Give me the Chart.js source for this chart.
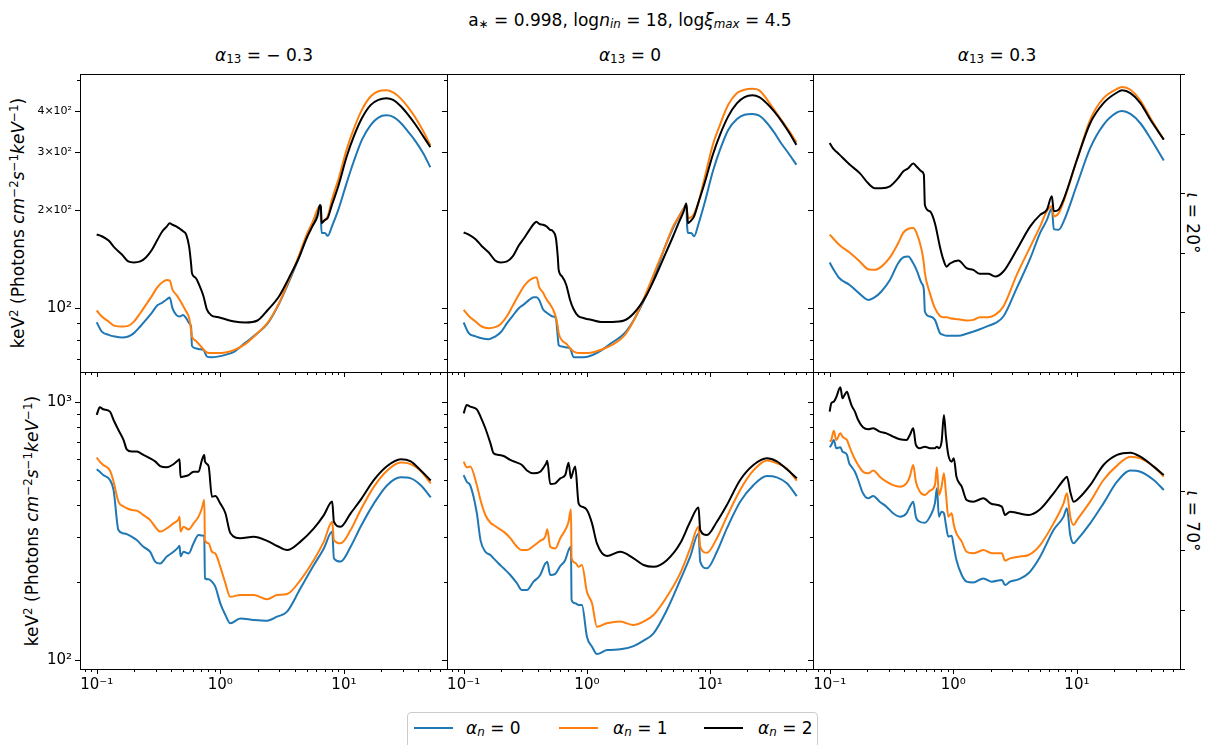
<!DOCTYPE html>
<html>
<head>
<meta charset="utf-8">
<script src="https://cdn.jsdelivr.net/npm/chart.js@4.4.0/dist/chart.umd.min.js"></script>
<style>
body { margin: 0; background: #fff; font-family: "DejaVu Sans", sans-serif; }
#fig { position: relative; width: 1211px; height: 745px; overflow: hidden; background: #fff; }
#fig canvas { position: absolute; }
.txt { position: absolute; white-space: nowrap; color: #000; font-size: 17px; line-height: 1; }
.txt sub { font-size: 0.7em; vertical-align: -0.25em; line-height: 0; }
.txt sup { font-size: 0.7em; vertical-align: 0.45em; line-height: 0; }
.c { transform: translate(-50%, -50%); }
.rl { transform: translate(-50%, -50%) rotate(-90deg); }
.rr { transform: translate(-50%, -50%) rotate(90deg); }
#legend { position: absolute; left: 407px; top: 712px; width: 411px; height: 44px; border: 1px solid #ccc; border-radius: 4px; box-sizing: border-box; background: #fff; }
#legend .ln { position: absolute; top: 14px; width: 39px; height: 0; border-top: 2px solid; }
#legend .txt { top: 15px; transform: translateY(-50%); }
</style>
</head>
<body>
<div id="fig">
  <div class="txt c" style="left:630px; top:20px">a<sub>∗</sub> = 0.998, log<i>n</i><sub><i>in</i></sub> = 18, log<i>ξ</i><sub><i>max</i></sub> = 4.5</div>
  <div class="txt c" style="left:264px; top:55px"><i>α</i><sub>13</sub> = − 0.3</div>
  <div class="txt c" style="left:630px; top:55px"><i>α</i><sub>13</sub> = 0</div>
  <div class="txt c" style="left:997px; top:55px"><i>α</i><sub>13</sub> = 0.3</div>
  <div class="txt rl" style="left:18px; top:223px">keV<sup>2</sup> (Photons <i>cm</i><sup>−2</sup><i>s</i><sup>−1</sup><i>keV</i><sup>−1</sup>)</div>
  <div class="txt rl" style="left:32px; top:521px">keV<sup>2</sup> (Photons <i>cm</i><sup>−2</sup><i>s</i><sup>−1</sup><i>keV</i><sup>−1</sup>)</div>
  <div class="txt rr" style="left:1192px; top:223px"><i>ι</i> = 20°</div>
  <div class="txt rr" style="left:1192px; top:521px"><i>ι</i> = 70°</div>
  <div id="legend">
    <span class="ln" style="left:6px; border-color:#1f77b4"></span><span class="txt" style="left:58px"><i>α</i><sub><i>n</i></sub> = 0</span>
    <span class="ln" style="left:151px; border-color:#ff7f0e"></span><span class="txt" style="left:205px"><i>α</i><sub><i>n</i></sub> = 1</span>
    <span class="ln" style="left:296px; border-color:#000000"></span><span class="txt" style="left:350px"><i>α</i><sub><i>n</i></sub> = 2</span>
  </div>
</div>
<script>
// energies (keV) and keV^2 flux values

// top row, alpha13 = -0.3 and 0 share the energy grid
const energyTop = [0.1, 0.11, 0.125, 0.14, 0.16, 0.18, 0.2, 0.225, 0.25, 0.28,
  0.31, 0.34, 0.37, 0.39, 0.41, 0.44, 0.47, 0.5, 0.53, 0.56,
  0.58, 0.59, 0.63, 0.68, 0.73, 0.78, 0.85, 0.95, 1.1, 1.3,
  1.6, 2.0, 2.4, 3.0, 3.6, 4.3, 5.0, 5.6, 6.1, 6.4,
  6.5, 6.6, 7.0, 7.4, 8.0, 9.0, 10.5, 12, 14, 16.5,
  19, 22, 25, 29, 33, 38, 44, 50];

const blueTL = [90.6, 84.8, 82.9, 81.9, 81.3, 81.9, 83.9, 87.9, 92.1, 97,
  102.1, 104, 106.5, 107.8, 100, 95.4, 94.3, 95.4, 93.2, 90,
  87.9, 76.7, 75.4, 74.9, 74.6, 71.1, 70.8, 71.1, 72, 73.7,
  78.5, 83.9, 89.5, 103.6, 120.7, 142, 166, 182, 198, 206,
  191, 170, 170, 166.5, 178, 200, 241, 281, 328, 364,
  383, 389, 385, 368, 347, 324, 297, 270];
const orangeTL = [98.4, 94.3, 91.0, 88.3, 87.9, 88.3, 91.0, 96.5, 102.4, 109.1,
  116, 120, 122, 121.5, 114, 110, 106, 101.7, 97.7, 93.2,
  85.8, 81.9, 79.6, 77.2, 74.9, 73.2, 72.9, 72.9, 73.2, 74.6,
  77.8, 83.9, 90, 104, 122, 144, 168, 184, 200, 205,
  203, 184, 186, 191, 215, 247, 305, 353, 405, 445,
  461, 464, 457, 437, 412, 382, 347, 315];
const blackTL = [168, 166, 161, 153, 146, 139, 138, 139, 143, 151,
  162, 172, 178, 182, 180, 178, 175, 172, 168, 154,
  137, 128, 124, 117, 109, 99, 95, 94, 92.5, 91,
  90.4, 91.7, 98.4, 109, 124, 142, 164, 179, 191, 207,
  205, 182, 186, 189, 207, 236, 290, 335, 382, 419,
  434, 439, 434, 414, 391, 364, 335, 311];

const blueTM = [90.4, 83.9, 82, 80.9, 80.4, 81.9, 84.4, 90, 94.7, 100,
  102.9, 106, 108.1, 108.1, 106, 99.3, 97, 95.4, 94.3, 93.2,
  81.9, 77.1, 76.3, 75.8, 75.3, 70.8, 70.8, 70.8, 71.8, 74.2,
  78.5, 83.5, 92.1, 108.6, 128, 154, 175.8, 191, 202, 207,
  178, 170, 170, 166, 180, 209.7, 262, 305, 351, 379,
  390.6, 392.6, 388, 368, 345, 318, 294.8, 274.6];
const orangeTM = [98.8, 94.7, 91, 87.9, 86.9, 87.5, 89.5, 94.7, 101.7, 109.9,
  117, 121.5, 123.8, 124.4, 116, 111.7, 106.5, 103.1, 99.3, 93.9,
  87.9, 83.9, 79.6, 77.8, 75.4, 73.7, 72.9, 72.9, 73.2, 74.6,
  77.2, 82.3, 91.7, 110.6, 131, 154, 178, 191, 201.5, 207,
  196, 188.6, 189.5, 194.5, 209.7, 250, 316, 364, 419, 455,
  466, 469, 464, 434, 405, 375.6, 347, 321.6];
const blackTM = [170.5, 168, 162.6, 155, 148, 140, 138, 139, 144, 155.5,
  164, 173, 181, 184, 181, 180, 178, 174, 172, 164,
  144, 131, 125, 117.8, 106, 99.3, 94.7, 93.2, 92, 90.8,
  90.8, 91.7, 96.5, 108.6, 125, 145.7, 166, 184, 198, 209,
  196, 182, 185.5, 191, 209.7, 241, 294.8, 339, 386.3, 424,
  442.5, 448, 442.5, 422, 400, 373, 343, 316];

// top row, alpha13 = 0.3
const energyTR = [0.1, 0.106, 0.12, 0.145, 0.175, 0.205, 0.232, 0.262, 0.307, 0.358,
  0.393, 0.432, 0.474, 0.504, 0.554, 0.578, 0.589, 0.647, 0.71, 0.78,
  0.83, 0.883, 0.94, 1.1, 1.28, 1.45, 1.64, 1.92, 2.18, 2.54,
  3.26, 4.19, 5.04, 5.71, 6.27, 6.5, 7.1, 7.8, 10, 12.8,
  16.4, 21.1, 23.2, 27.1, 32.6, 39.3, 50.4];
const blueTR = [138, 132.6, 123.5, 117.8, 110.6, 106, 108.1, 112.5, 122, 137.3,
  143, 144, 137.3, 131, 119.3, 113.8, 97.7, 94.3, 92.1, 83.9,
  82.9, 82.3, 82.3, 82.3, 83.5, 84.8, 86.2, 88.3, 90, 94.3,
  115.2, 142, 170, 186, 202, 174.5, 173.7, 184, 238.6, 309,
  364, 397, 401, 393, 368, 331, 283];
const orangeTR = [168, 164, 156, 148, 139, 131.6, 131, 134, 143, 158,
  170, 175, 176, 170, 151, 137, 128, 111, 100, 94.7,
  93.9, 93.9, 93.2, 92.5, 91.7, 92.1, 93.9, 93.9, 95.4, 101.2,
  126.5, 154, 178, 198, 205, 191, 195, 212, 284.5, 377,
  439, 469, 475, 466, 432, 382, 328];
const blackTR = [320, 309, 295, 275, 259, 241, 233, 233, 236, 250,
  262, 268, 277, 271.5, 262, 256, 207, 198, 182, 154,
  141, 134, 137, 140, 132.6, 131, 127.4, 127.4, 125, 129.5,
  151, 178, 193, 200, 220, 198, 200, 215, 284.5, 368,
  424, 457, 464, 455, 424, 377, 328];

// bottom row, alpha13 = -0.3 and 0 share the energy grid
const energyBot = [0.1, 0.106, 0.113, 0.128, 0.137, 0.15, 0.165, 0.175, 0.192, 0.211,
  0.239, 0.271, 0.297, 0.326, 0.369, 0.418, 0.459, 0.468, 0.477, 0.504,
  0.554, 0.608, 0.667, 0.71, 0.742, 0.751, 0.804, 0.856, 0.911, 1.0,
  1.1, 1.205, 1.452, 1.864, 2.39, 2.88, 3.47, 4.45, 5.71, 6.88,
  8.04, 8.3, 9.4, 11.33, 13.65, 17.5, 22.4, 28.8, 34.7, 41.85,
  50.4];
const blueBL = [549.5, 538, 522, 499.5, 457, 319.5, 310, 308, 301, 292,
  275, 263, 241, 237, 252, 263, 274, 277.5, 253, 263,
  259, 284, 305.5, 304, 303.7, 207.4, 205.6, 201.4, 192.5, 166,
  149.5, 138.8, 145, 143, 142, 147.3, 154, 189.7, 233.6, 271,
  315, 248, 241, 275, 329, 405.5, 477, 511.6, 507, 477,
  428];
const orangeBL = [610, 588.6, 571, 544, 492, 412, 394, 388, 382, 380,
  365, 349, 329, 315, 324, 339, 351.5, 360, 315, 329,
  321, 339, 360, 388, 418, 292, 283.6, 263, 259, 230,
  198.4, 176, 178.8, 178.8, 172, 178.8, 180.4, 204.4, 244.4, 288,
  344, 292, 283.6, 319.5, 382, 470.8, 544, 584, 576, 541,
  485];
const blackBL = [893, 956, 940, 920, 854, 781, 714, 657, 644, 644,
  625, 606, 590, 566, 560, 575, 597, 601, 512, 515,
  522, 538, 538, 597, 625, 590, 566, 430, 433, 405,
  371, 311, 297, 301, 290, 277, 267, 288, 324, 365,
  412, 344, 329, 371, 418, 500, 566, 601, 590, 544,
  497];

const blueBM = [522, 492, 477, 371, 292, 263, 255.6, 248, 237, 226.9,
  213.8, 198.4, 186.9, 186.9, 201.4, 213.8, 237, 238.6, 240.8, 213.8,
  216, 231.6, 244.4, 267, 275, 171, 166, 163.5, 163.5, 123.2,
  112.7, 105.5, 109.3, 110, 113.3, 118.9, 126.9, 156.3, 204.4, 251.8,
  310, 240.8, 226.9, 263, 324.3, 411.6, 477, 517.8, 511.6, 485,
  432.5];
const orangeBM = [588.6, 559.5, 563, 477, 417.8, 365.4, 341, 334, 324, 315,
  297, 275, 267, 267, 277, 290, 301, 312, 321.6, 275,
  271, 297, 319.5, 344, 384.5, 248, 238.6, 230, 233.6, 184,
  166, 134.7, 138.8, 141, 136.7, 141, 149.5, 176, 217, 271,
  329, 275, 260.7, 297, 360, 457, 544, 595, 580, 553.5,
  496.5];
const blackBM = [906, 976, 962, 939, 880, 793, 693, 634, 625, 619,
  597.4, 583.3, 571, 544, 530, 538, 571, 580, 593.8, 482,
  485, 507, 522, 583, 507, 515, 563, 405.5, 393.6, 382,
  339, 283.6, 253.3, 263, 248, 233.7, 230, 244, 283.6, 344,
  391, 319.5, 305.5, 344, 399.5, 499.5, 571, 606.4, 590, 549.5,
  507];

// bottom row, alpha13 = 0.3
const energyBR = [0.1, 0.103, 0.108, 0.113, 0.122, 0.127, 0.132, 0.138, 0.144, 0.15,
  0.16, 0.17, 0.186, 0.205, 0.225, 0.254, 0.288, 0.326, 0.37, 0.418,
  0.445, 0.474, 0.498, 0.537, 0.589, 0.647, 0.71, 0.737, 0.765, 0.804,
  0.84, 0.872, 0.911, 0.969, 1.01, 1.06, 1.17, 1.28, 1.45, 1.75,
  2.05, 2.47, 2.62, 2.88, 3.37, 4.06, 5.04, 6.47, 7.8, 8.3,
  8.83, 9.4, 10, 12.8, 16.4, 21.1, 27.1, 32.6, 41.8, 50.4];
const blueBR = [669, 683, 714, 663, 669, 643.6, 638, 625, 580, 563,
  538, 499.5, 443.5, 424, 433, 411.6, 393.6, 371, 360, 371,
  393.6, 411.6, 360, 344, 341, 360, 405.5, 463.7, 360, 376.5,
  371, 334, 301, 303.7, 275, 244.4, 213.8, 201.4, 200, 207.4,
  201.4, 204.4, 195.5, 201.4, 205.6, 217, 251.8, 319.5, 360, 387.9,
  305.5, 283.6, 292, 339, 405.5, 492, 544, 538, 499.5, 457];
const orangeBR = [703.6, 714, 776, 714, 758, 736, 725, 714, 677, 643.6,
  601, 571, 538, 530, 544, 514.7, 492, 477, 470.8, 484.8,
  514.7, 571, 492, 450, 437, 454, 477, 559.5, 437, 470.8,
  530, 443.5, 360, 371, 334, 310, 288, 263, 259.4, 267,
  259.4, 259.4, 243, 248, 251.8, 255.6, 279.4, 339, 405.5, 443.5,
  360, 334, 349, 411.6, 499.5, 568, 615, 606, 563, 514.7];
const blackBR = [920, 991, 1006, 1046, 1144, 1036, 1068, 1100, 1036, 976,
  920, 854, 800, 786, 793, 770, 758, 736, 718.7, 714,
  746.9, 793, 683, 663, 673, 663, 663, 673, 663, 703.6,
  893, 736, 625, 588.6, 606.4, 514.7, 470.8, 417.8, 411.6, 424,
  403, 393.6, 365.4, 376.5, 371, 365.4, 384.5, 443.5, 499.5, 514.7,
  450, 411.6, 418, 477, 571, 625, 637.9, 615.3, 563, 522];

// axes
const xTicks = [0.1, 1, 10];
const xTickLabels = ['10⁻¹', '10⁰', '10¹'];
const xMinor = [0.08, 0.09, 0.2, 0.3, 0.4, 0.5, 0.6, 0.7, 0.8, 0.9,
  2, 3, 4, 5, 6, 7, 8, 9, 20, 30, 40, 50, 60];
const yTicksTop = [100, 200, 300, 400];
const yTickLabelsTop = ['10²', '2×10²', '3×10²', '4×10²'];
const yMinorTop = [70, 80, 90, 500];
const yTicksBot = [100, 1000];
const yTickLabelsBot = ['10²', '10³'];
const yMinorBot = [200, 300, 400, 500, 600, 700, 800, 900];
const twinTicks = [0, 0.2, 0.4, 0.6, 0.8, 1];

const colors = ['#1f77b4', '#ff7f0e', '#000000'];

const panels = [
  { row: 0, col: 0, e: energyTop, s: [blueTL, orangeTL, blackTL] },
  { row: 0, col: 1, e: energyTop, s: [blueTM, orangeTM, blackTM] },
  { row: 0, col: 2, e: energyTR, s: [blueTR, orangeTR, blackTR] },
  { row: 1, col: 0, e: energyBot, s: [blueBL, orangeBL, blackBL] },
  { row: 1, col: 1, e: energyBot, s: [blueBM, orangeBM, blackBM] },
  { row: 1, col: 2, e: energyBR, s: [blueBR, orangeBR, blackBR] }
];

const colLeft = [80, 447, 813], colW = [367, 366, 367];
const rowTop = [74, 372], rowH = [298, 297];
const yRange = [[63.8, 520.6], [92.3, 1311]];
const xRange = [0.0733, 68.2];
const PADL = 75, PADT = 8, PADR = 12, PADB = 32;

function isDecade(v) {
  const l = Math.log10(v);
  return Math.abs(l - Math.round(l)) < 1e-9;
}

// frame plus matplotlib-like major/minor tick marks
const framePlugin = {
  id: 'frame',
  afterDatasetsDraw(chart, args, opts) {
    const ctx = chart.ctx, a = chart.chartArea;
    const sx = chart.scales.x, sy = chart.scales.y;
    ctx.save();
    ctx.strokeStyle = '#000';
    ctx.lineWidth = 1;
    ctx.beginPath();
    function px(v) { return Math.round(v) + 0.5; }
    xTicks.forEach(function (v) { const p = px(sx.getPixelForValue(v)); ctx.moveTo(p, a.bottom); ctx.lineTo(p, a.bottom + 5); });
    xMinor.forEach(function (v) {
      if (v < xRange[0] || v > xRange[1]) return;
      const p = px(sx.getPixelForValue(v)); ctx.moveTo(p, a.bottom); ctx.lineTo(p, a.bottom + 3);
    });
    opts.yMajor.forEach(function (v) { const p = px(sy.getPixelForValue(v)); ctx.moveTo(a.left, p); ctx.lineTo(a.left - 5, p); });
    opts.yMinor.forEach(function (v) { const p = px(sy.getPixelForValue(v)); ctx.moveTo(a.left, p); ctx.lineTo(a.left - 3, p); });
    if (chart.scales.y2) {
      twinTicks.forEach(function (v) { const p = px(chart.scales.y2.getPixelForValue(v)); ctx.moveTo(a.right, p); ctx.lineTo(a.right + 5, p); });
    }
    ctx.stroke();
    ctx.strokeRect(px(a.left), px(a.top), Math.round(a.right) - Math.round(a.left), Math.round(a.bottom) - Math.round(a.top));
    ctx.restore();
  }
};

const fig = document.getElementById('fig');

panels.forEach(function (p) {
  const W = colW[p.col], H = rowH[p.row];
  const cv = document.createElement('canvas');
  cv.width = W + PADL + PADR;
  cv.height = H + PADT + PADB;
  cv.style.left = (colLeft[p.col] - PADL) + 'px';
  cv.style.top = (rowTop[p.row] - PADT) + 'px';
  fig.appendChild(cv);

  const top = p.row === 0;
  const yt = top ? yTicksTop : yTicksBot;
  const ytl = top ? yTickLabelsTop : yTickLabelsBot;

  const datasets = p.s.map(function (vals, k) {
    return {
      label: 'αn = ' + k,
      data: p.e.map(function (x, i) { return { x: x, y: vals[i] }; }),
      borderColor: colors[k],
      borderWidth: 2,
      pointRadius: 0,
      fill: false,
      cubicInterpolationMode: 'monotone',
      order: 2 - k
    };
  });

  const scales = {
    x: {
      type: 'logarithmic', min: xRange[0], max: xRange[1], bounds: 'data',
      grid: { display: false, drawTicks: true, tickLength: 5 },
      border: { display: false },
      afterBuildTicks: function (s) { s.ticks = xTicks.map(function (v) { return { value: v }; }); },
      afterFit: function (s) { s.height = PADB; s.paddingLeft = 0; s.paddingRight = 0; },
      ticks: {
        display: !top, autoSkip: false, maxRotation: 0, minRotation: 0, padding: 2, color: '#000',
        font: { family: 'DejaVu Sans', size: 15 },
        callback: function (v, i) { return xTickLabels[i]; }
      }
    },
    y: {
      type: 'logarithmic', min: yRange[p.row][0], max: yRange[p.row][1], bounds: 'data',
      grid: { display: false, drawTicks: true, tickLength: 5 },
      border: { display: false },
      afterBuildTicks: function (s) { s.ticks = yt.map(function (v) { return { value: v }; }); },
      afterFit: function (s) { s.width = PADL; s.paddingTop = 0; s.paddingBottom = 0; },
      ticks: {
        display: p.col === 0, autoSkip: false, padding: 3, color: '#000',
        font: function (c) {
          const t = c.tick;
          return { family: 'DejaVu Sans', size: (t && !isDecade(t.value)) ? 11 : 15 };
        },
        callback: function (v, i) { return ytl[i]; }
      }
    }
  };
  if (p.col === 2) {
    scales.y2 = { type: 'linear', position: 'right', min: 0, max: 1, display: false };
  }

  new Chart(cv, {
    type: 'line',
    data: { datasets: datasets },
    options: {
      responsive: false,
      animation: false,
      events: [],
      layout: { padding: { left: 0, top: PADT, right: PADR, bottom: 0 } },
      scales: scales,
      plugins: {
        legend: { display: false },
        tooltip: { enabled: false },
        frame: { yMajor: yt, yMinor: top ? yMinorTop : yMinorBot }
      }
    },
    plugins: [framePlugin]
  });
});
</script>
</body>
</html>
